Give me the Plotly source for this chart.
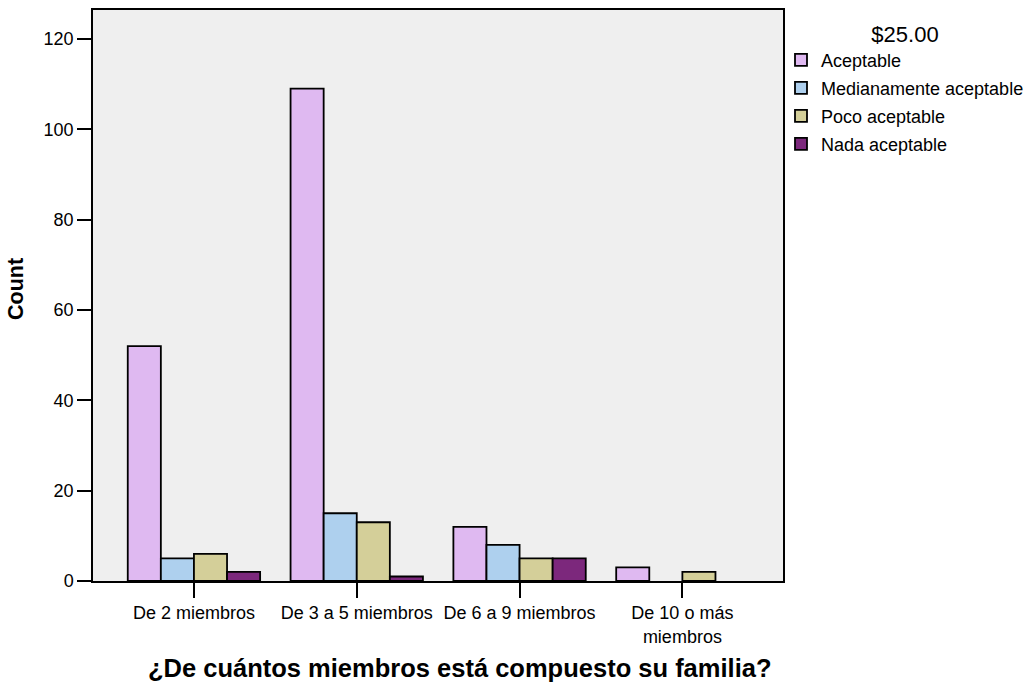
import plotly.graph_objects as go

# Household size categories (x axis) and acceptability counts per category
categories = ["De 2 miembros", "De 3 a 5 miembros", "De 6 a 9 miembros", "De 10 o más<br>miembros"]
aceptable = [52, 109, 12, 3]
medianamente = [5, 15, 8, 0]
poco = [6, 13, 5, 2]
nada = [2, 1, 5, 0]

series_names = ["Aceptable", "Medianamente aceptable", "Poco aceptable", "Nada aceptable"]
series_values = [aceptable, medianamente, poco, nada]
series_colors = ["#DFB9F1", "#AED0EE", "#D4CF99", "#7C287C"]

FONT = "Liberation Sans, Arial, sans-serif"

W, H = 1028, 682
L, R, T, B = 93, 245, 10, 101
pw, ph = W - L - R, H - T - B

fig = go.Figure()
for name, vals, color in zip(series_names, series_values, series_colors):
    fig.add_trace(go.Bar(
        x=categories, y=vals, name=name, legendgroup=name,
        marker=dict(color=color,
                    # empty cells get no outline so nothing is drawn for them
                    line=dict(color="black", width=[0 if v == 0 else 1.8 for v in vals])),
    ))

fig.update_layout(
    width=W, height=H,
    margin=dict(l=L, r=R, t=T, b=B, autoexpand=False),
    paper_bgcolor="white",
    plot_bgcolor="#EFEFEF",
    barmode="group",
    bargap=0.187,
    bargroupgap=0,
    font=dict(family=FONT, size=18, color="black"),
    showlegend=True,
    legend=dict(
        x=1 - 2 / pw, xanchor="left", y=1 - 3 / ph, yanchor="top",
        xref="paper", yref="paper",
        font=dict(family=FONT, size=18, color="black"),
        title=dict(text="$25.00", side="top center",
                   font=dict(family=FONT, size=22, color="black")),
        bgcolor="rgba(0,0,0,0)",
        tracegroupgap=1.6,
    ),
    xaxis=dict(
        range=[-0.62, 3.618],
        showgrid=False, zeroline=False,
        showline=True, linecolor="black", linewidth=1.5, mirror=True,
        ticks="outside", ticklen=15, tickwidth=1.5, tickcolor="black",
        tickfont=dict(family=FONT, size=18, color="black"),
    ),
    yaxis=dict(
        range=[0, 126.4],
        tickvals=[0, 20, 40, 60, 80, 100, 120],
        showgrid=False, zeroline=False,
        showline=True, linecolor="black", linewidth=1.5, mirror=True,
        ticks="outside", ticklen=14, tickwidth=1.5, tickcolor="black",
        tickfont=dict(family=FONT, size=18, color="black"),
    ),
)


def px_to_paper(px, py):
    return (px - L) / pw, 1 - (py - T) / ph


cx, cy = px_to_paper(16, 289)
fig.add_annotation(text="<b>Count</b>", x=cx, y=cy, xref="paper", yref="paper",
                   xanchor="center", yanchor="middle", showarrow=False, textangle=-90,
                   font=dict(family=FONT, size=21.5, color="black"))
tx, ty = px_to_paper(460, 668)
fig.add_annotation(text="<b>¿De cuántos miembros está compuesto su familia?</b>",
                   x=tx, y=ty, xref="paper", yref="paper",
                   xanchor="center", yanchor="middle", showarrow=False,
                   font=dict(family=FONT, size=25.5, color="black"))

fig.write_html("out.html")
